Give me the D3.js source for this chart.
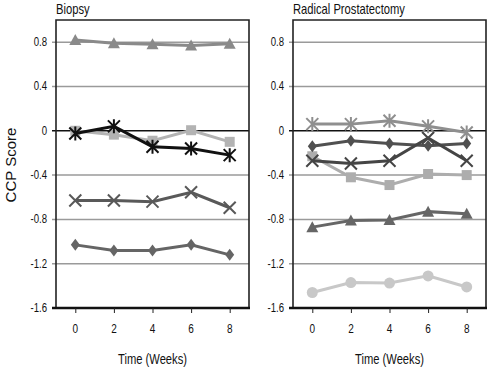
<!DOCTYPE html>
<html lang="en">
<head>
    <meta charset="UTF-8">
    <title>CCP Score</title>
    <script src="https://cdn.jsdelivr.net/npm/d3@7"></script>
    <style>
        body { margin: 0; background: #fff; }
    </style>
</head>
<body>
<script type="text/javascript">
    var weeks = [0, 2, 4, 6, 8];
    var yTicks = [0.8, 0.4, 0, -0.4, -0.8, -1.2, -1.6];
    var yTickLabels = ["0.8", "0.4", "0", "-0.4", "-0.8", "-1.2", "-1.6"];

    // Biopsy
    var biopsyTriangle = [0.82, 0.79, 0.78, 0.77, 0.785];
    var biopsySquare = [0.0, -0.035, -0.09, 0.005, -0.10];
    var biopsyAsterisk = [-0.025, 0.04, -0.145, -0.16, -0.22];
    var biopsyCross = [-0.63, -0.63, -0.64, -0.555, -0.695];
    var biopsyDiamond = [-1.03, -1.08, -1.08, -1.03, -1.12];

    // Radical Prostatectomy
    var rpAsterisk = [0.06, 0.06, 0.09, 0.04, -0.015];
    var rpDiamond = [-0.14, -0.09, -0.115, -0.135, -0.115];
    var rpCross = [-0.27, -0.295, -0.27, -0.065, -0.27];
    var rpSquare = [-0.23, -0.42, -0.49, -0.39, -0.40];
    var rpTriangle = [-0.87, -0.81, -0.805, -0.73, -0.75];
    var rpCircle = [-1.46, -1.37, -1.375, -1.31, -1.41];

    var svgWidth = 500, svgHeight = 369;
    var plotTop = 20, plotBottom = 308;
    var squeeze = 0.8; // the reference uses a condensed face

    var panels = [
        { title: "Biopsy", left: 56, right: 249, series: [
            { values: biopsyTriangle, color: "#8a8a8a", marker: "triangle" },
            { values: biopsySquare, color: "#b3b3b3", marker: "square" },
            { values: biopsyAsterisk, color: "#111", marker: "asterisk" },
            { values: biopsyCross, color: "#595959", marker: "cross" },
            { values: biopsyDiamond, color: "#656565", marker: "diamond" }
        ]},
        { title: "Radical Prostatectomy", left: 293, right: 486, series: [
            { values: rpAsterisk, color: "#8f8f8f", marker: "asterisk" },
            { values: rpSquare, color: "#adadad", marker: "square" },
            { values: rpDiamond, color: "#505050", marker: "diamond" },
            { values: rpCross, color: "#454545", marker: "cross" },
            { values: rpTriangle, color: "#666", marker: "triangle" },
            { values: rpCircle, color: "#c8c8c8", marker: "circle" }
        ]}
    ];

    var yScale = d3.scaleLinear().domain([-1.6, 1.0]).range([plotBottom, plotTop]);

    var svg = d3.select("body").append("svg")
        .attr("width", svgWidth)
        .attr("height", svgHeight)
        .attr("font-family", "Liberation Sans, Arial, sans-serif");

    // condensed text helper
    function narrowText(parent, x, y, str, size, anchor) {
        return parent.append("text")
            .attr("transform", "translate(" + x + "," + y + ") scale(" + squeeze + ",1)")
            .attr("text-anchor", anchor || "start")
            .attr("font-size", size)
            .attr("fill", "#111")
            .text(str);
    }

    // y axis title
    svg.append("text")
        .attr("transform", "translate(16,165) rotate(-90)")
        .attr("text-anchor", "middle")
        .attr("font-size", "15px")
        .attr("fill", "#111")
        .text("CCP Score");

    function markerPath(type) {
        var p = d3.path();
        if (type === "cross" || type === "asterisk") {
            var s = 6;
            p.moveTo(-s, -s); p.lineTo(s, s);
            p.moveTo(s, -s); p.lineTo(-s, s);
            if (type === "asterisk") { p.moveTo(0, -s - 1); p.lineTo(0, s + 1); }
            return p.toString();
        }
        if (type === "triangle") {
            p.moveTo(0, -6); p.lineTo(6, 5); p.lineTo(-6, 5); p.closePath();
        } else if (type === "square") {
            p.rect(-5, -5, 10, 10);
        } else if (type === "diamond") {
            p.moveTo(0, -6); p.lineTo(4.5, 0); p.lineTo(0, 6); p.lineTo(-4.5, 0); p.closePath();
        } else if (type === "circle") {
            p.arc(0, 0, 5.5, 0, 2 * Math.PI);
        }
        return p.toString();
    }

    panels.forEach(function (panel) {
        var xScale = d3.scaleLinear().domain([-1, 9]).range([panel.left, panel.right]);
        var g = svg.append("g");

        // gridlines
        g.selectAll(".grid")
            .data(yTicks.filter(function (d) { return d !== -1.6; }))
            .enter()
            .append("line")
            .attr("x1", panel.left - 4)
            .attr("x2", panel.right)
            .attr("y1", function (d) { return yScale(d); })
            .attr("y2", function (d) { return yScale(d); })
            .attr("stroke", function (d) { return d === 0 ? "#111" : "#9a9a9a"; })
            .attr("stroke-width", 1.5);

        // frame
        g.append("path")
            .attr("d", "M" + panel.left + "," + plotBottom + "V" + plotTop + "H" + panel.right + "V" + plotBottom)
            .attr("fill", "none")
            .attr("stroke", "#222")
            .attr("stroke-width", 1.6);

        // x axis
        var xAxis = d3.axisBottom(xScale).tickValues(weeks).tickSize(5).tickFormat("");
        var ax = g.append("g")
            .attr("transform", "translate(0," + plotBottom + ")")
            .call(xAxis);
        ax.select(".domain").attr("stroke", "#111").attr("stroke-width", 2.5)
            .attr("d", "M" + (panel.left - 4) + ",0H" + (panel.right + 1));
        ax.selectAll(".tick line").attr("stroke", "#222");
        weeks.forEach(function (w) {
            narrowText(g, xScale(w), 333, String(w), "12.5px", "middle");
        });

        // y tick labels
        yTicks.forEach(function (d, i) {
            narrowText(g, panel.left - 9, yScale(d) + 4, yTickLabels[i], "12px", "end");
        });

        // titles
        narrowText(g, panel.left, 14, panel.title, "14px", "start");
        narrowText(g, (panel.left + panel.right) / 2, 364, "Time (Weeks)", "14px", "middle");

        var line = d3.line()
            .x(function (d, i) { return xScale(weeks[i]); })
            .y(function (d) { return yScale(d); });

        panel.series.forEach(function (s) {
            g.append("path")
                .attr("d", line(s.values))
                .attr("fill", "none")
                .attr("stroke", s.color)
                .attr("stroke-width", 3);

            var stroked = s.marker === "cross" || s.marker === "asterisk";
            g.selectAll(null)
                .data(s.values)
                .enter()
                .append("path")
                .attr("transform", function (d, i) {
                    return "translate(" + xScale(weeks[i]) + "," + yScale(d) + ")";
                })
                .attr("d", markerPath(s.marker))
                .attr("fill", stroked ? "none" : s.color)
                .attr("stroke", s.color)
                .attr("stroke-width", stroked ? 2 : 0);
        });
    });
</script>
</body>
</html>
